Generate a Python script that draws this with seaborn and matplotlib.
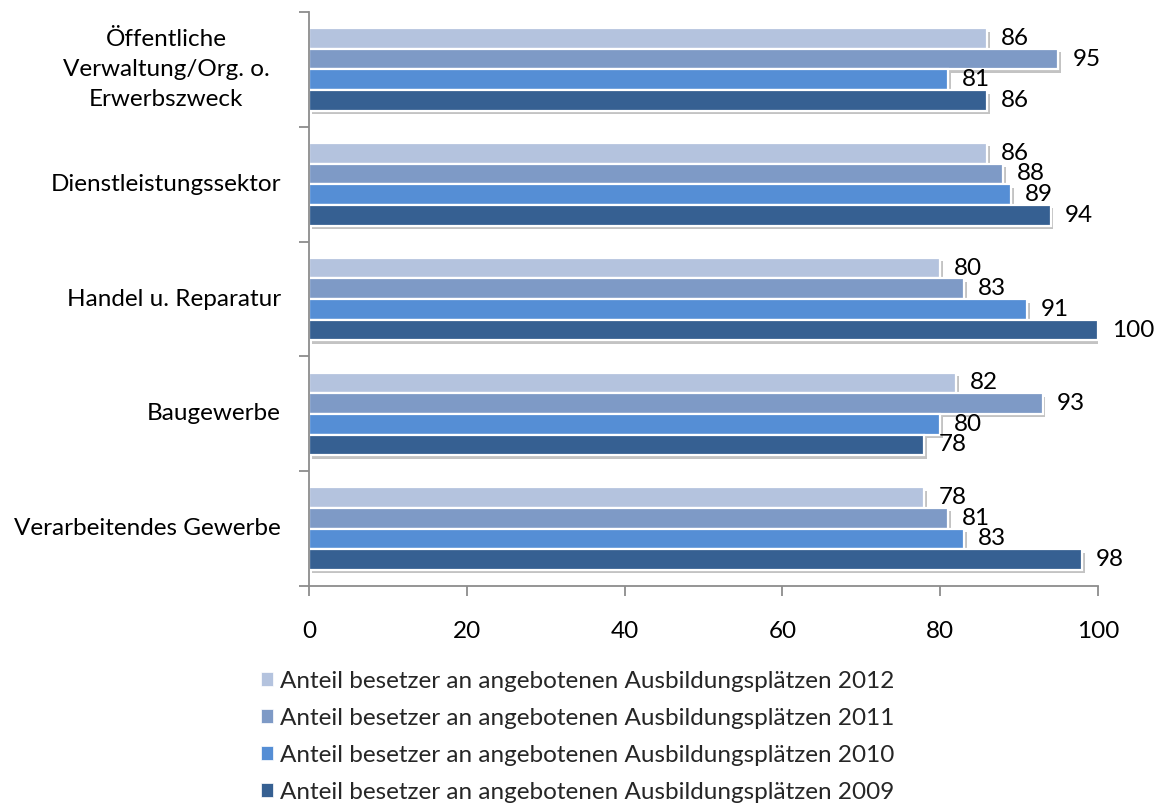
import matplotlib
matplotlib.use("Agg")
import matplotlib.pyplot as plt
import matplotlib.patheffects as pe
from matplotlib.patches import Patch
from matplotlib.ticker import FixedLocator
import matplotlib.transforms as mtransforms
import pandas as pd
import seaborn as sns

# Sectors, top to bottom
bereiche = [
    "Öffentliche\nVerwaltung/Org. o.\nErwerbszweck",
    "Dienstleistungssektor",
    "Handel u. Reparatur",
    "Baugewerbe",
    "Verarbeitendes Gewerbe",
]
jahre = ["2012", "2011", "2010", "2009"]

# Share of filled apprenticeship places (%) per sector
werte_2012 = [86, 86, 80, 82, 78]
werte_2011 = [95, 88, 83, 93, 81]
werte_2010 = [81, 89, 91, 80, 83]
werte_2009 = [86, 94, 100, 78, 98]

farben = ["#B4C3DE", "#7E9AC6", "#558ED5", "#366092"]
legend_prefix = "Anteil besetzer an angebotenen Ausbildungsplätzen "

x_ticks = [0, 20, 40, 60, 80, 100]

rows = []
for jahr, werte in zip(jahre, [werte_2012, werte_2011, werte_2010, werte_2009]):
    for b, v in zip(bereiche, werte):
        rows.append({"Bereich": b, "Jahr": jahr, "Wert": v})
df = pd.DataFrame(rows)

sns.set_theme(style="white")
plt.rcParams["font.family"] = ["Lato", "DejaVu Sans"]
FS = 17.5

fig = plt.figure(figsize=(11.55, 8.05), dpi=100)
ax = fig.add_axes([0.2675, 0.272, 0.6831, 0.713])

sns.barplot(
    data=df, y="Bereich", x="Wert", hue="Jahr",
    order=bereiche, hue_order=jahre, palette=farben, saturation=1,
    orient="h", width=0.72, edgecolor="white", linewidth=1.6,
    ax=ax, legend=False,
)

shadow = [pe.SimplePatchShadow(offset=(2, -2.5), shadow_rgbFace="#7a7a7a", alpha=0.45),
          pe.Normal()]
for container in ax.containers:
    for bar in container:
        bar.set_path_effects(shadow)
    ax.bar_label(container, fmt="%d", padding=10, fontsize=FS, color="black")

ax.set_xlim(0, 100)
ax.set_ylim(len(bereiche) - 0.5, -0.5)
ax.set_xticks(x_ticks)
ax.set_xticklabels([str(t) for t in x_ticks], fontsize=FS)
ax.set_xlabel("")
ax.set_ylabel("")

# Tick marks at category boundaries, labels drawn at category centres
ax.yaxis.set_major_locator(FixedLocator([i - 0.5 for i in range(len(bereiche) + 1)]))
ax.set_yticklabels([])
trans = mtransforms.blended_transform_factory(ax.transAxes, ax.transData)
for i, name in enumerate(bereiche):
    multi = "\n" in name
    ax.text(-0.0355 if not multi else -0.181, i, name, transform=trans,
            ha="right" if not multi else "center", va="center",
            multialignment="center", fontsize=FS, linespacing=1.55, color="black")

for side in ["top", "right"]:
    ax.spines[side].set_visible(False)
for side in ["left", "bottom"]:
    ax.spines[side].set_color("#8c8c8c")
    ax.spines[side].set_linewidth(1.3)
ax.tick_params(axis="both", direction="out", length=7, width=1.3, color="#8c8c8c",
               left=True, bottom=True)
ax.tick_params(axis="x", pad=18, labelcolor="black")

handles = [Patch(facecolor=c, edgecolor="white", linewidth=0.5) for c in farben]
labels = [legend_prefix + j for j in jahre]
fig.legend(handles, labels, loc="upper left", bbox_to_anchor=(0.226, 0.167),
           frameon=False, fontsize=FS, handlelength=0.48, handleheight=0.48,
           handletextpad=0.3, labelspacing=0.66, borderaxespad=0, borderpad=0)

fig.savefig("out.png", dpi=100)
